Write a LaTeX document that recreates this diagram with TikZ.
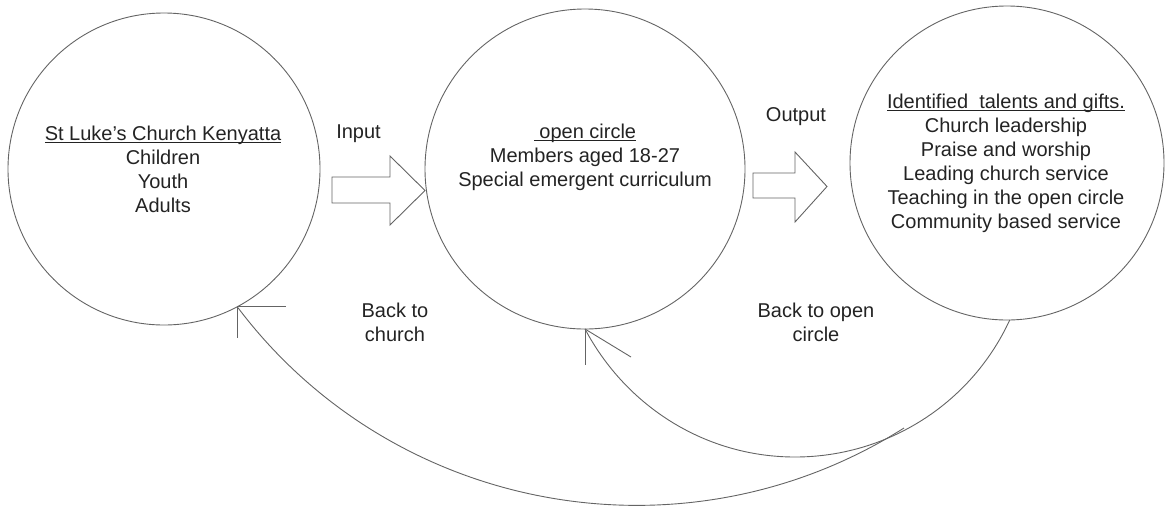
\documentclass[tikz,border=0pt]{standalone}
\usepackage{fontspec}
\setmainfont{Liberation Sans}
\definecolor{ln}{RGB}{100,100,100}
\definecolor{tx}{RGB}{35,35,35}
\newcommand{\myul}[1]{\leavevmode\setbox0\hbox{#1}\rlap{\rule[-2.6pt]{\wd0}{1pt}}\box0}
\begin{document}
\begin{tikzpicture}[x=1pt,y=-1pt,
  every node/.style={text=tx, font=\fontsize{20}{24}\selectfont},
  ring/.style={circle, draw=ln, line width=0.9pt, inner sep=0pt, outer sep=0pt},
  lbl/.style={align=center, inner sep=0pt},
  conn/.style={draw=ln, line width=0.9pt},
  blockarrow/.style={draw=ln, line width=0.9pt, fill=white, line join=miter}]
\useasboundingbox (0,0) rectangle (1169,507);

% circles
\node[ring, minimum size=312pt] (L) at (164,169) {};
\node[ring, minimum size=320pt] (M) at (585,169) {};
\node[ring, minimum size=314pt] (R) at (1007,163) {};

% texts inside circles
\node[lbl] (Ltxt) at (163,169) {\myul{St Luke’s Church Kenyatta}\\Children\\Youth\\Adults};
\node[lbl] (Mtxt) at (585,157) {\myul{\ open circle}\\Members aged 18-27\\Special emergent curriculum};
\node[lbl] (Rtxt) at (1006,163) {\myul{Identified\ \ talents and gifts.}\\Church leadership\\Praise and worship\\Leading church service\\Teaching in the open circle\\Community based service};

% block arrows
\draw[blockarrow] (332,177) -- (390,177) -- (390,156) -- (425,190.5) -- (390,225) -- (390,203) -- (332,203) -- cycle;
\draw[blockarrow] (753,173) -- (795,173) -- (795,152) -- (827,186.5) -- (795,222) -- (795,198) -- (753,198) -- cycle;

% labels
\node[anchor=base, inner sep=0pt] (inlbl) at (358.5,138) {Input};
\node[anchor=base, inner sep=0pt] (outlbl) at (796,121) {Output};
\node[lbl] (bc) at (395,322) {Back to\\church};
\node[lbl] (bo) at (816,322) {Back to open\\circle};

% return connectors
\coordinate (low) at (795,457);
\coordinate (J) at (904,428);
\draw[conn] (R.-89) .. controls (971,404) and (887,457) .. (low)
            .. controls (707,457) and (627,408) .. (M.-90);
\draw[conn] (J) .. controls (684,567) and (393,514) .. (L.-62);

% open arrow heads
\draw[conn] (L.-62) -- ++(49,0);
\draw[conn] (L.-62) -- ++(0,31);
\draw[conn] (M.-90) -- ++(0,36);
\draw[conn] (M.-90) -- ++(46,28);
\end{tikzpicture}
\end{document}
